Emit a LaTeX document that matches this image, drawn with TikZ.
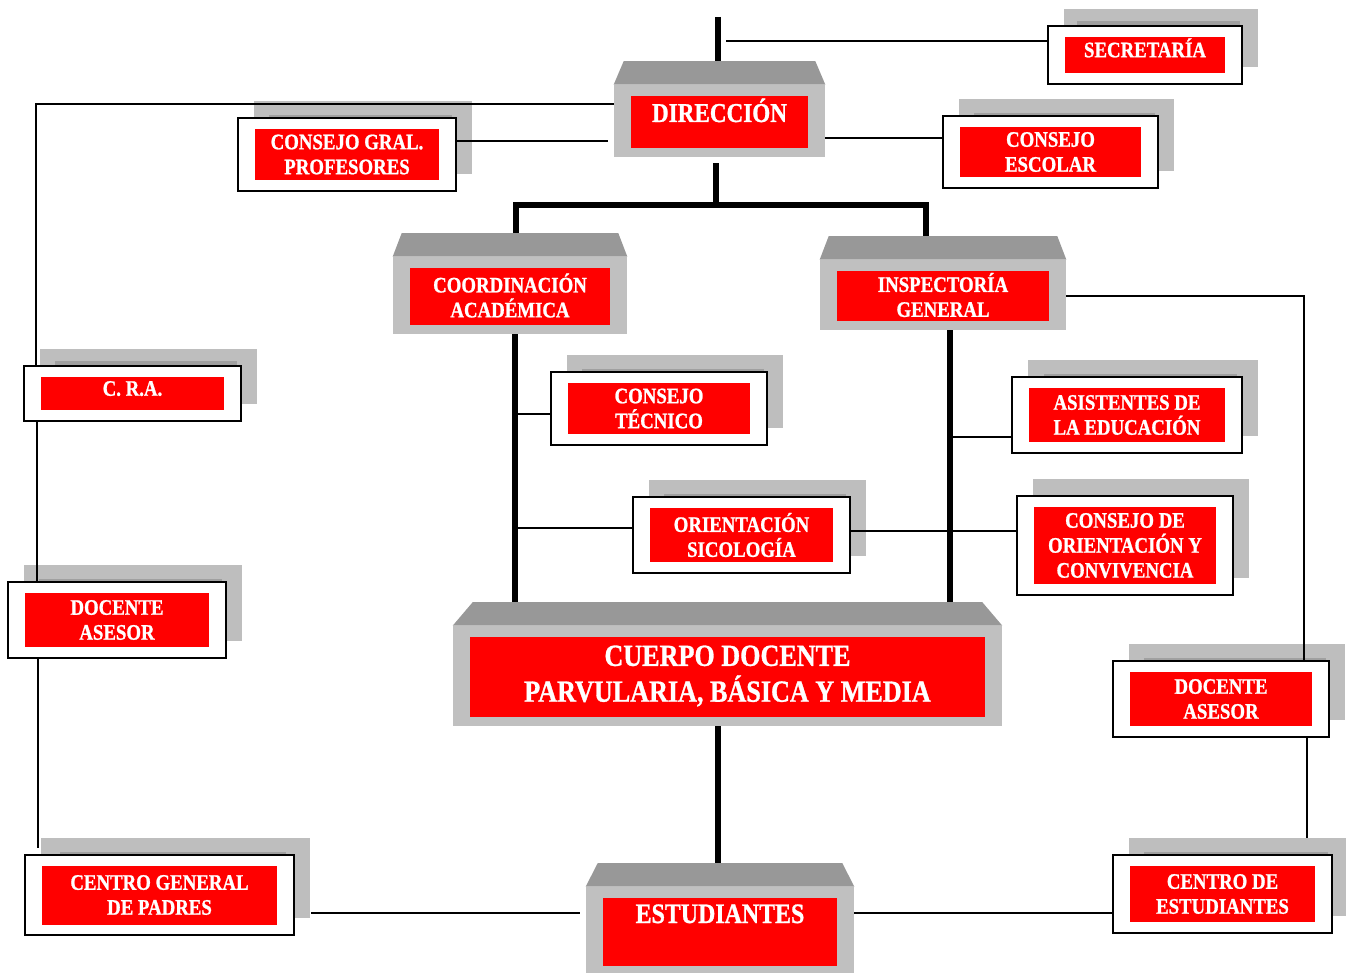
\documentclass[tikz,border=0pt]{standalone}
\usepackage{fontspec}
\newfontfamily\boxfont{Liberation Serif}[FakeStretch=0.85, BoldFeatures={FakeBold=1}]
\usetikzlibrary{shadows}
\definecolor{boxred}{RGB}{255,0,0}
\definecolor{bodygray}{RGB}{192,192,192}
\definecolor{roofgray}{RGB}{152,152,152}
\definecolor{shadowgray}{RGB}{190,190,190}
\definecolor{stripgray}{RGB}{160,160,160}
\tikzstyle{side} = [draw=black, line width=1.1pt, fill=white, inner sep=0pt,
    minimum width=4.34cm, text=white, align=center,
    font=\boxfont\bfseries\fontsize{12.6}{14.2}\selectfont,
    general shadow={fill=shadowgray, draw=none, shadow xshift=0.32cm, shadow yshift=0.34cm},
    general shadow={fill=stripgray, draw=none, shadow scale=0.84, shadow xshift=0.33cm, shadow yshift=0.22cm},
    path picture={\fill[boxred] ([shift={(0.34cm,0.21cm)}]path picture bounding box.south west)
        rectangle ([shift={(-0.34cm,-0.21cm)}]path picture bounding box.north east);}]
\tikzstyle{main} = [fill=bodygray, inner sep=0pt, text=white, align=center,
    font=\boxfont\bfseries\fontsize{12.6}{14.2}\selectfont,
    path picture={\fill[boxred] ([shift={(0.34cm,0.18cm)}]path picture bounding box.south west)
        rectangle ([shift={(-0.34cm,-0.22cm)}]path picture bounding box.north east);}]
\tikzstyle{oneline} = [text height=0.3cm, text depth=0.21cm]
\tikzstyle{trunk} = [draw=black, line width=3.4pt]
\tikzstyle{link} = [draw=black, line width=0.8pt]
\newcommand{\roof}[2]{%
  \fill[roofgray] (#1.north west) -- ([shift={(#2,0.47cm)}]#1.north west)
    -- ([shift={(-#2,0.47cm)}]#1.north east) -- (#1.north east) -- cycle;
  \coordinate (#1 top) at ([yshift=0.47cm]#1.north);}

\begin{document}
\begin{tikzpicture}[x=0.02cm, y=-0.02cm]
\useasboundingbox (0,0) rectangle (1346,973);

%%% main boxes
\node[main, font=\boxfont\bfseries\fontsize{15.5}{18}\selectfont, text height=0.36cm, text depth=0.32cm,
    minimum width=4.22cm, minimum height=1.44cm] (dir) at (719.5,121) {DIRECCIÓN};
\node[main, minimum width=4.68cm, minimum height=1.54cm] (coord) at (510,295.5) {COORDINACIÓN\\ACADÉMICA};
\node[main, minimum width=4.92cm, minimum height=1.4cm] (insp) at (943,295) {INSPECTORÍA\\GENERAL};
\node[main, font=\boxfont\bfseries\fontsize{17.5}{20.4}\selectfont,
    minimum width=10.98cm, minimum height=2cm] (cuer) at (727.5,676) {CUERPO DOCENTE\\PARVULARIA, BÁSICA Y MEDIA};
\node[main, font=\boxfont\bfseries\fontsize{16}{18}\selectfont, text height=0.37cm, text depth=0.69cm,
    minimum width=5.36cm, minimum height=1.76cm] (est) at (720,931) {ESTUDIANTES};
\roof{dir}{0.2cm}
\roof{coord}{0.18cm}
\roof{insp}{0.18cm}
\roof{cuer}{0.4cm}
\roof{est}{0.24cm}

%%% side boxes
\node[side, oneline, minimum width=3.88cm, minimum height=1.16cm] (sec) at (1145,55) {SECRETARÍA};
\node[side, minimum width=4.36cm, minimum height=1.46cm] (cgp) at (347,154.5) {CONSEJO GRAL.\\PROFESORES};
\node[side, minimum width=4.3cm, minimum height=1.44cm] (cesc) at (1050.5,152) {CONSEJO\\ESCOLAR};
\node[side, oneline, minimum height=1.1cm] (cra) at (132.5,393.5) {C. R.A.};
\node[side, minimum width=4.32cm, minimum height=1.46cm] (ctec) at (659,408.5) {CONSEJO\\TÉCNICO};
\node[side, minimum width=4.6cm, minimum height=1.52cm] (asis) at (1127,415) {ASISTENTES DE\\LA EDUCACIÓN};
\node[side, minimum height=1.52cm] (orien) at (741.5,535) {ORIENTACIÓN\\SICOLOGÍA};
\node[side, minimum width=4.32cm, minimum height=1.98cm] (cdoc) at (1125,545.5) {CONSEJO DE\\ORIENTACIÓN Y\\CONVIVENCIA};
\node[side, minimum width=4.36cm, minimum height=1.52cm] (dal) at (117,620) {DOCENTE\\ASESOR};
\node[side, minimum width=4.32cm, minimum height=1.52cm] (dar) at (1221,699) {DOCENTE\\ASESOR};
\node[side, minimum width=5.38cm, minimum height=1.6cm] (cgpa) at (159.5,895) {CENTRO GENERAL\\DE PADRES};
\node[side, minimum width=4.38cm, minimum height=1.56cm] (cest) at (1222.5,894) {CENTRO DE\\ESTUDIANTES};

%%% lines
\coordinate (topend) at (718,17);
\coordinate (secend) at (726,41);
\coordinate (bus) at (716,205);
\draw[trunk] (topend) -- (topend |- dir top);
\draw[trunk] (bus) -- ++(0,-42);
\draw[trunk] (516,0 |- coord top) |- (bus) -| (926,0 |- insp top);
\draw[trunk] (515,0 |- coord.south) -- (515,0 |- cuer top);
\draw[trunk] (950,0 |- insp.south) -- (950,0 |- cuer top);
\draw[trunk] (718,0 |- cuer.south) -- (718,0 |- est top);

\draw[link] (secend) -- (sec.west |- secend);
\draw[link] (dir.west |- 0,104) -| (36,0 |- cra.north);
\draw[link] (cgp.east |- 0,141) -- (608,141);
\draw[link] (dir.east |- 0,138) -- (cesc.west |- 0,138);
\draw[link] (515,414) -- (ctec.west |- 0,414);
\draw[link] (515,528) -- (orien.west |- 0,528);
\draw[link] (orien.east |- 0,531) -- (cdoc.west |- 0,531);
\draw[link] (950,437) -- (asis.west |- 0,437);
\draw[link] (insp.east |- 0,296) -| (1304,0 |- dar.north);
\draw[link] (1307,0 |- dar.south) -- (1307,838);
\draw[link] (37,0 |- cra.south) -- (37,0 |- dal.north);
\draw[link] (38,0 |- dal.south) -- (38,848);
\draw[link] (311,913) -- (580,913);
\draw[link] (est.east |- 0,913) -- (cest.west |- 0,913);

\end{tikzpicture}
\end{document}
